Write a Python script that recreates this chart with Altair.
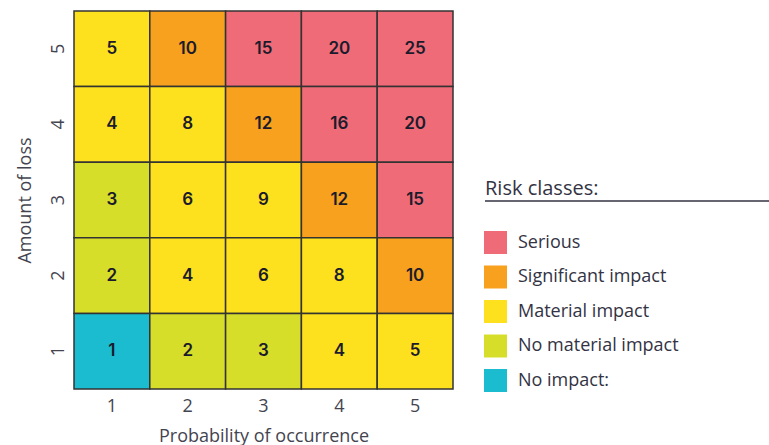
import altair as alt
import pandas as pd

probability = [1, 2, 3, 4, 5] * 5
loss = [5] * 5 + [4] * 5 + [3] * 5 + [2] * 5 + [1] * 5
values = [5, 10, 15, 20, 25,
          4, 8, 12, 16, 20,
          3, 6, 9, 12, 15,
          2, 4, 6, 8, 10,
          1, 2, 3, 4, 5]
S, G, M, N, Z = "Serious", "Significant impact", "Material impact", "No material impact", "No impact:"
classes = [M, G, S, S, S,
           M, M, G, S, S,
           N, M, M, G, S,
           N, M, M, M, G,
           Z, N, N, M, M]
class_order = [S, G, M, N, Z]
class_colors = ["#F06B78", "#F7A11E", "#FDE11E", "#D6DE2A", "#1BBCCF"]

df = pd.DataFrame({"p": probability, "l": loss, "v": values, "c": classes})

FONT = "Open Sans"
NUMFONT = "Inter"

xenc = alt.X("p:O", title="Probability of occurrence",
             scale=alt.Scale(paddingInner=0, paddingOuter=0),
             axis=alt.Axis(labelAngle=0, domain=False, ticks=False, labelPadding=8,
                           labelFontSize=18, labelColor="#444450", labelFont=FONT,
                           labelFontWeight=400,
                           titleFont=FONT, titleFontSize=18, titleFontWeight=400,
                           titleColor="#444450", titlePadding=12))
yenc = alt.Y("l:O", title="Amount of loss", sort="descending",
             scale=alt.Scale(paddingInner=0, paddingOuter=0),
             axis=alt.Axis(labelAngle=270, domain=False, ticks=False, labelPadding=11,
                           labelAlign="center", labelBaseline="alphabetic",
                           labelFontSize=18, labelColor="#444450", labelFont=FONT,
                           labelFontWeight=400,
                           titleFont=FONT, titleFontSize=18, titleFontWeight=400,
                           titleColor="#444450", titlePadding=15))

base = alt.Chart(df)

rects = base.mark_rect(stroke="#333333", strokeWidth=1.5).encode(
    x=xenc, y=yenc,
    color=alt.Color("c:N", sort=class_order,
                    scale=alt.Scale(domain=class_order, range=class_colors),
                    legend=alt.Legend(title=None, orient="none", legendX=410, legendY=220,
                                      symbolType="square", symbolSize=529,
                                      symbolStrokeWidth=0, symbolOpacity=1,
                                      labelFontSize=18, labelFont=FONT, labelFontWeight=400,
                                      labelColor="#333344", labelOffset=11, labelLimit=300,
                                      rowPadding=11.5, padding=0)),
)

texts = base.mark_text(font=NUMFONT, fontSize=17, fontWeight=600, color="#1b1b2b").encode(
    x="p:O", y=alt.Y("l:O", sort="descending"), text="v:Q")

title_df = pd.DataFrame({"t": ["Risk classes:"]})
legend_title = alt.Chart(title_df).mark_text(
    font=FONT, fontSize=20, fontWeight=400, align="left", baseline="alphabetic", color="#333344"
).encode(x=alt.value(411), y=alt.value(184), text="t:N")
underline = alt.Chart(title_df).mark_rule(color="#333344", strokeWidth=1.5).encode(
    x=alt.value(411), x2=alt.value(695), y=alt.value(190))

chart = alt.layer(rects, texts, legend_title, underline).properties(
    width=379, height=378,
    autosize="none",
    padding={"left": 74, "top": 11, "right": 316, "bottom": 56},
).configure_view(strokeWidth=0)

chart.save("out.html", embed_options={"renderer": "svg", "actions": False})
